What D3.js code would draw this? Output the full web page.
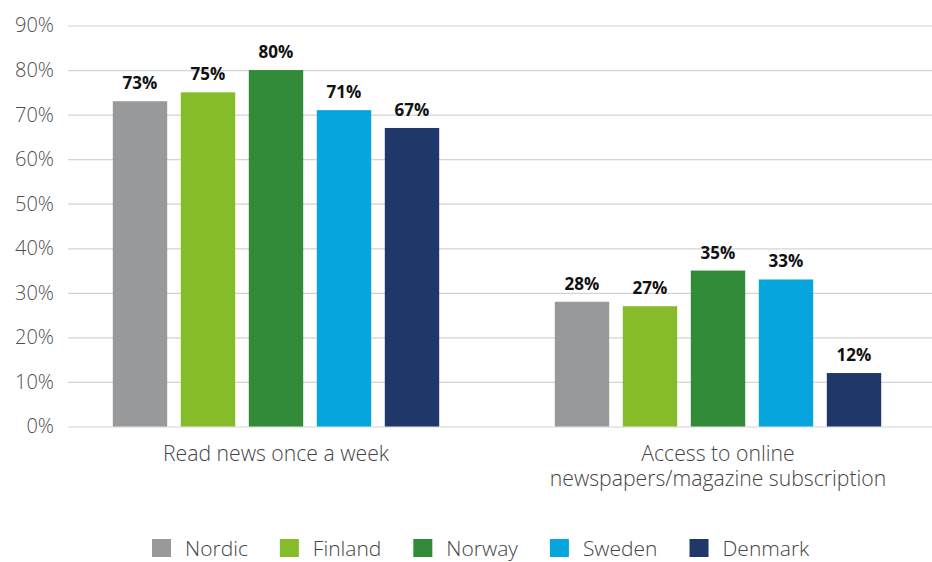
<!DOCTYPE html>
<html>
<head>
<meta charset="utf-8">
<script src="https://cdn.jsdelivr.net/npm/d3@7"></script>
<style>
  html, body { margin: 0; padding: 0; background: #fff; }
  svg { display: block; font-family: "Open Sans", "Noto Sans", sans-serif; }
  .light { font-weight: 300; }
</style>
</head>
<body>
<svg id="chart" width="932" height="562"></svg>
<script>
// Survey measures (groups along the x axis)
const categories = [
  ["Read news once a week"],
  ["Access to online", "newspapers/magazine subscription"]
];
// Countries shown as bars within each group
const series = ["Nordic", "Finland", "Norway", "Sweden", "Denmark"];
// Share of respondents, percent, one list per country
const nordic  = [73, 28];
const finland = [75, 27];
const norway  = [80, 35];
const sweden  = [71, 33];
const denmark = [67, 12];
const yTicks  = [0, 10, 20, 30, 40, 50, 60, 70, 80, 90];

const values = [nordic, finland, norway, sweden, denmark];
const colors = ["#97999b", "#86bc2a", "#318b38", "#07a5de", "#20376a"];

const svg = d3.select("#chart");

const gridLeft = 68, gridRight = 932;

const y = d3.scaleLinear().domain([0, 90]).range([426.5, 25.5]);

const x0 = d3.scaleBand()
  .domain(d3.range(categories.length))
  .range([55, 939])
  .padding(0);

const x1 = d3.scaleBand()
  .domain(series)
  .range([-170, 170])
  .paddingInner(0.2)
  .paddingOuter(0.1);

const color = d3.scaleOrdinal().domain(series).range(colors);

// Horizontal gridlines and percentage labels
const yAxis = d3.axisLeft(y)
  .tickValues(yTicks)
  .tickFormat(d => d + "%")
  .tickSize(-(gridRight - gridLeft))
  .tickPadding(14);

const ga = svg.append("g")
  .attr("transform", `translate(${gridLeft},0)`)
  .call(yAxis);
ga.select(".domain").remove();
ga.selectAll(".tick line").attr("stroke", "#d4d4d4").attr("stroke-width", 1.2);
ga.selectAll(".tick text")
  .attr("class", "light")
  .attr("fill", "#505050")
  .style("font-size", "20px")
  .style("font-family", "'Open Sans', sans-serif");

// Bars
const rows = [];
categories.forEach((c, ci) => {
  series.forEach((s, si) => {
    rows.push({ ci, s, v: values[si][ci] });
  });
});

const groups = svg.append("g");
groups.selectAll("rect")
  .data(rows)
  .join("rect")
  .attr("x", d => x0(d.ci) + x0.bandwidth() / 2 + x1(d.s))
  .attr("y", d => y(d.v))
  .attr("width", x1.bandwidth())
  .attr("height", d => y(0) - y(d.v))
  .attr("fill", d => color(d.s));

// Value labels above bars
groups.selectAll("text.val")
  .data(rows)
  .join("text")
  .attr("class", "val")
  .attr("x", d => x0(d.ci) + x0.bandwidth() / 2 + x1(d.s) + x1.bandwidth() / 2)
  .attr("y", d => y(d.v) - 12)
  .attr("text-anchor", "middle")
  .attr("fill", "#111")
  .style("font-size", "17px")
  .style("font-weight", "700")
  .text(d => d.v + "%");

// Category labels under the groups
const cat = svg.append("g").selectAll("text")
  .data(categories)
  .join("text")
  .attr("class", "light")
  .attr("text-anchor", "middle")
  .attr("fill", "#444")
  .style("font-size", "21.2px")
  .attr("transform", (d, i) => `translate(${x0(i) + x0.bandwidth() / 2},461)`);
cat.selectAll("tspan")
  .data(d => d)
  .join("tspan")
  .attr("x", 0)
  .attr("dy", (d, i) => i === 0 ? 0 : 25)
  .text(d => d);

// Legend
const legend = svg.append("g").attr("transform", "translate(152,539)");
let lx = 0;
series.forEach(s => {
  const item = legend.append("g").attr("transform", `translate(${lx},0)`);
  item.append("rect")
    .attr("width", 19).attr("height", 18)
    .attr("fill", color(s));
  const t = item.append("text")
    .attr("class", "light")
    .attr("x", 33).attr("y", 16.5)
    .attr("fill", "#444")
    .style("font-size", "21px")
    .text(s);
  lx += 33 + t.node().getComputedTextLength() + 32;
});
</script>
</body>
</html>
